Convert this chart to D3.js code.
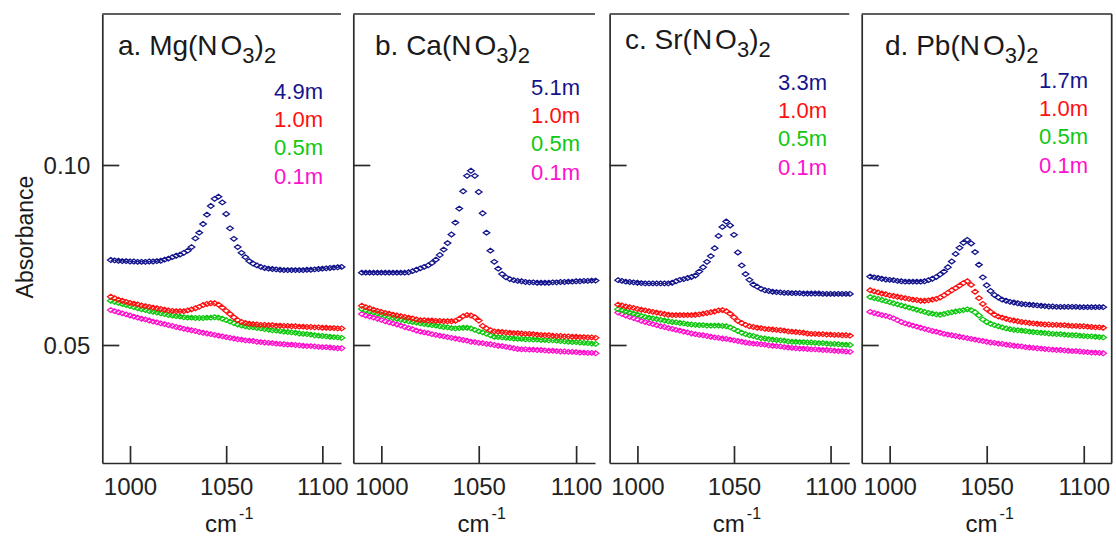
<!DOCTYPE html>
<html>
<head>
<meta charset="utf-8">
<script src="https://cdn.jsdelivr.net/npm/d3@7/dist/d3.min.js"></script>
<style>
  html, body { margin: 0; padding: 0; background: #fff; }
  svg { display: block; }
  text { font-family: "Liberation Sans", Arial, sans-serif; }
</style>
</head>
<body>
<svg id="chart" width="1116" height="537"></svg>
<script>
// ---------------- DATA ----------------
const wavenumbers = [990,992,994,996,998,1000,1002,1004,1006,1008,
  1010,1012,1014,1016,1018,1020,1022,1024,1026,1028,
  1030,1032,1034,1036,1038,1040,1042,1044,1046,1048,
  1050,1052,1054,1056,1058,1060,1062,1064,1066,1068,
  1070,1072,1074,1076,1078,1080,1082,1084,1086,1088,
  1090,1092,1094,1096,1098,1100,1102,1104,1106,1108,1110];

const salts = ["a. Mg", "b. Ca", "c. Sr", "d. Pb"];
const concentrations = [
  ["4.9m", "1.0m", "0.5m", "0.1m"],
  ["5.1m", "1.0m", "0.5m", "0.1m"],
  ["3.3m", "1.0m", "0.5m", "0.1m"],
  ["1.7m", "1.0m", "0.5m", "0.1m"]
];
const xTicks = [1000, 1050, 1100];
const yTicks = [0.05, 0.10];
const yTickLabels = ["0.05", "0.10"];
const xAxisTitle = "cm";
const xAxisTitleSup = "-1";
const yAxisTitle = "Absorbance";

// Mg(NO3)2
const mgHigh = [.0736,.0735,.0734,.0733,.0733,.0732,.0732,.0731,.0731,.0731,
  .0732,.0732,.0733,.0734,.0737,.0740,.0744,.0748,.0751,.0756,
  .0762,.0772,.0796,.0812,.0836,.0862,.0886,.0906,.0912,.0896,
  .0864,.0824,.0795,.0772,.0756,.0744,.0733,.0726,.0721,.0717,
  .0714,.0712,.0711,.0710,.0709,.0708,.0708,.0708,.0708,.0708,
  .0708,.0709,.0709,.0710,.0711,.0712,.0713,.0714,.0715,.0716,.0717];
const mg10 = [.0634,.0630,.0626,.0623,.0620,.0617,.0615,.0613,.0610,.0608,
  .0606,.0604,.0602,.0600,.0598,.0596,.0595,.0594,.0594,.0594,
  .0596,.0599,.0602,.0606,.0611,.0614,.0616,.0616,.0612,.0604,
  .0595,.0586,.0577,.0569,.0564,.0561,.0559,.0558,.0557,.0556,
  .0556,.0555,.0555,.0554,.0554,.0553,.0553,.0552,.0552,.0551,
  .0551,.0550,.0550,.0549,.0549,.0548,.0548,.0547,.0547,.0546,.0546];
const mg05 = [.0623,.0620,.0617,.0614,.0611,.0608,.0605,.0602,.0599,.0597,
  .0594,.0592,.0590,.0588,.0586,.0583,.0582,.0580,.0579,.0577,
  .0576,.0576,.0575,.0575,.0575,.0576,.0576,.0577,.0576,.0573,
  .0569,.0565,.0561,.0557,.0554,.0552,.0550,.0549,.0547,.0546,
  .0544,.0543,.0541,.0540,.0539,.0537,.0536,.0535,.0534,.0532,
  .0531,.0530,.0529,.0527,.0526,.0525,.0524,.0523,.0522,.0521,.0520];
const mg01 = [.0597,.0594,.0591,.0588,.0585,.0582,.0579,.0576,.0573,.0571,
  .0568,.0565,.0563,.0560,.0558,.0555,.0553,.0550,.0548,.0545,
  .0543,.0541,.0539,.0536,.0534,.0532,.0530,.0528,.0526,.0524,
  .0522,.0520,.0518,.0516,.0515,.0513,.0512,.0511,.0509,.0508,
  .0507,.0506,.0505,.0504,.0503,.0502,.0501,.0501,.0500,.0499,
  .0498,.0497,.0497,.0496,.0495,.0494,.0494,.0493,.0492,.0491,.0491];

// Ca(NO3)2
const caHigh = [.0701,.0701,.0701,.0701,.0701,.0701,.0701,.0701,.0701,.0701,
  .0701,.0701,.0702,.0705,.0709,.0713,.0717,.0721,.0728,.0737,
  .0750,.0765,.0783,.0807,.0840,.0879,.0927,.0970,.0984,.0970,
  .0925,.0866,.0812,.0762,.0731,.0712,.0697,.0688,.0683,.0680,
  .0678,.0677,.0675,.0674,.0674,.0673,.0673,.0673,.0673,.0674,
  .0674,.0675,.0675,.0676,.0676,.0677,.0677,.0678,.0678,.0679,.0679];
const ca10 = [.0609,.0605,.0602,.0598,.0595,.0592,.0589,.0587,.0584,.0582,
  .0580,.0578,.0576,.0574,.0571,.0569,.0569,.0568,.0568,.0567,
  .0567,.0566,.0566,.0566,.0567,.0573,.0580,.0583,.0582,.0577,
  .0568,.0553,.0546,.0541,.0538,.0537,.0536,.0535,.0534,.0533,
  .0533,.0532,.0531,.0531,.0530,.0529,.0528,.0527,.0527,.0526,
  .0525,.0525,.0524,.0524,.0523,.0523,.0522,.0522,.0521,.0521,.0520];
const ca05 = [.0600,.0596,.0593,.0590,.0587,.0584,.0581,.0578,.0575,.0573,
  .0570,.0568,.0566,.0564,.0562,.0560,.0558,.0557,.0555,.0554,
  .0552,.0550,.0549,.0547,.0546,.0547,.0548,.0548,.0546,.0542,
  .0538,.0535,.0531,.0527,.0523,.0522,.0521,.0520,.0519,.0518,
  .0517,.0517,.0516,.0516,.0515,.0515,.0514,.0514,.0513,.0513,
  .0512,.0511,.0510,.0509,.0508,.0508,.0507,.0506,.0505,.0504,.0503];
const ca01 = [.0586,.0582,.0579,.0576,.0573,.0570,.0566,.0563,.0560,.0557,
  .0554,.0550,.0547,.0544,.0540,.0537,.0535,.0533,.0530,.0528,
  .0526,.0524,.0522,.0520,.0518,.0516,.0514,.0512,.0509,.0508,
  .0506,.0505,.0503,.0502,.0500,.0498,.0497,.0495,.0493,.0491,
  .0489,.0488,.0488,.0487,.0487,.0486,.0486,.0485,.0484,.0484,
  .0483,.0482,.0482,.0481,.0481,.0480,.0479,.0479,.0478,.0478,.0477];

// Sr(NO3)2
const srHigh = [.0680,.0678,.0676,.0675,.0674,.0673,.0672,.0671,.0671,.0671,
  .0671,.0671,.0671,.0671,.0673,.0677,.0681,.0683,.0686,.0689,
  .0693,.0704,.0716,.0731,.0747,.0769,.0803,.0828,.0843,.0832,
  .0806,.0757,.0721,.0697,.0681,.0668,.0662,.0656,.0652,.0650,
  .0648,.0647,.0646,.0645,.0645,.0644,.0644,.0644,.0643,.0643,
  .0643,.0643,.0643,.0642,.0642,.0642,.0642,.0642,.0642,.0642,.0642];
const sr10 = [.0612,.0610,.0607,.0605,.0603,.0600,.0598,.0596,.0594,.0592,
  .0590,.0588,.0586,.0584,.0583,.0583,.0583,.0583,.0583,.0583,
  .0584,.0585,.0587,.0589,.0591,.0593,.0596,.0597,.0594,.0587,
  .0577,.0567,.0561,.0556,.0552,.0550,.0548,.0547,.0545,.0544,
  .0543,.0542,.0541,.0540,.0538,.0537,.0536,.0535,.0534,.0532,
  .0531,.0531,.0530,.0530,.0529,.0529,.0528,.0528,.0527,.0527,.0526];
const sr05 = [.0599,.0596,.0593,.0590,.0587,.0584,.0581,.0578,.0576,.0574,
  .0572,.0570,.0568,.0566,.0564,.0563,.0561,.0560,.0558,.0557,
  .0556,.0555,.0555,.0554,.0554,.0554,.0554,.0553,.0552,.0549,
  .0544,.0539,.0534,.0530,.0527,.0525,.0522,.0519,.0518,.0516,
  .0515,.0514,.0513,.0512,.0510,.0509,.0509,.0508,.0508,.0507,
  .0507,.0506,.0505,.0505,.0504,.0503,.0503,.0502,.0501,.0501,.0500];
const sr01 = [.0590,.0586,.0582,.0578,.0575,.0571,.0567,.0564,.0561,.0558,
  .0555,.0552,.0550,.0547,.0545,.0542,.0540,.0537,.0535,.0532,
  .0530,.0528,.0527,.0525,.0523,.0521,.0520,.0518,.0517,.0515,
  .0513,.0511,.0509,.0507,.0505,.0504,.0503,.0502,.0501,.0499,
  .0498,.0497,.0496,.0494,.0493,.0492,.0491,.0490,.0490,.0489,
  .0488,.0488,.0487,.0486,.0486,.0485,.0484,.0483,.0483,.0482,.0481];

// Pb(NO3)2
const pbHigh = [.0690,.0688,.0686,.0684,.0682,.0681,.0680,.0678,.0677,.0676,
  .0676,.0676,.0676,.0676,.0677,.0680,.0684,.0689,.0696,.0704,
  .0716,.0732,.0753,.0770,.0784,.0792,.0782,.0758,.0723,.0688,
  .0666,.0650,.0639,.0632,.0626,.0623,.0620,.0618,.0616,.0614,
  .0613,.0612,.0611,.0610,.0609,.0608,.0607,.0607,.0606,.0606,
  .0606,.0606,.0606,.0606,.0605,.0605,.0605,.0605,.0605,.0605,.0605];
const pb10 = [.0652,.0649,.0646,.0643,.0641,.0638,.0636,.0634,.0632,.0630,
  .0628,.0626,.0625,.0623,.0623,.0624,.0626,.0628,.0632,.0638,
  .0645,.0652,.0658,.0665,.0672,.0677,.0667,.0648,.0630,.0614,
  .0600,.0592,.0584,.0579,.0576,.0573,.0570,.0568,.0566,.0564,
  .0563,.0561,.0560,.0559,.0558,.0557,.0557,.0556,.0556,.0555,
  .0555,.0554,.0553,.0553,.0552,.0552,.0551,.0550,.0549,.0549,.0548];
const pb05 = [.0633,.0630,.0628,.0625,.0622,.0619,.0616,.0613,.0610,.0607,
  .0604,.0601,.0598,.0595,.0592,.0589,.0587,.0585,.0584,.0586,
  .0589,.0591,.0593,.0595,.0597,.0599,.0597,.0591,.0582,.0571,
  .0564,.0559,.0555,.0552,.0549,.0546,.0544,.0542,.0541,.0540,
  .0539,.0537,.0536,.0535,.0534,.0533,.0532,.0531,.0530,.0530,
  .0529,.0528,.0527,.0527,.0526,.0525,.0524,.0524,.0523,.0522,.0521];
const pb01 = [.0592,.0589,.0586,.0583,.0581,.0578,.0574,.0569,.0564,.0560,
  .0557,.0554,.0551,.0548,.0545,.0542,.0539,.0537,.0534,.0531,
  .0529,.0527,.0525,.0523,.0521,.0519,.0517,.0515,.0513,.0511,
  .0509,.0507,.0506,.0504,.0503,.0501,.0500,.0498,.0497,.0496,
  .0494,.0493,.0492,.0491,.0490,.0489,.0488,.0487,.0486,.0486,
  .0485,.0484,.0483,.0483,.0482,.0481,.0480,.0479,.0479,.0478,.0477];

const panelSeries = [
  [mgHigh, mg10, mg05, mg01],
  [caHigh, ca10, ca05, ca01],
  [srHigh, sr10, sr05, sr01],
  [pbHigh, pb10, pb05, pb01]
];

// ---------------- STYLE / LAYOUT ----------------
const seriesColors = ["#14148c", "#ff1010", "#10c810", "#ff10cc"];
const frameColor = "#2a2a2a";
const panels = [
  { left: 102.3, right: 341.0, xMax: 1109.7, titleX: 118, titleY: 55, legX: 323, legY: 99, rightFrame: false },
  { left: 353.3, right: 595.0, xMax: 1109.7, titleX: 375, titleY: 55, legX: 580, legY: 95, rightFrame: false },
  { left: 609.6, right: 849.3, xMax: 1109.7, titleX: 625, titleY: 49, legX: 827, legY: 90, rightFrame: false },
  { left: 861.7, right: 1111.7, xMax: 1114.4, titleX: 885, titleY: 55, legX: 1088, legY: 88, rightFrame: true }
];
const plotTop = 14, plotBottom = 463;
const xMin = 985.6;

const svg = d3.select("#chart");

const y = d3.scaleLinear()
  .domain([0.05 - (plotBottom - 345) / 3600, 0.10 + (165 - plotTop) / 3600])
  .range([plotBottom, plotTop]);

const diamond = "M-3.3,0L0,-2.4L3.3,0L0,2.4Z";

panels.forEach((p, pi) => {
  const x = d3.scaleLinear().domain([xMin, p.xMax]).range([p.left, p.right]);
  const g = svg.append("g");

  // series (draw low concentration first, highest on top)
  for (let si = 3; si >= 0; si--) {
    const vals = panelSeries[pi][si];
    g.append("g")
      .selectAll("path")
      .data(wavenumbers.map((w, i) => [w, vals[i]]))
      .join("path")
      .attr("d", diamond)
      .attr("transform", d => `translate(${x(d[0])},${y(d[1])})`)
      .attr("fill", "none")
      .attr("stroke", seriesColors[si])
      .attr("stroke-width", 1.25);
  }

  // y axis (left frame)
  const yAxis = d3.axisLeft(y)
    .tickValues(yTicks)
    .tickSizeInner(-17)
    .tickSizeOuter(0)
    .tickPadding(12)
    .tickFormat((d, i) => pi === 0 ? yTickLabels[i] : "");
  const ya = g.append("g").attr("transform", `translate(${p.left},0)`).call(yAxis);
  ya.select(".domain").attr("stroke", frameColor).attr("stroke-width", 1.7);
  ya.selectAll(".tick line").attr("stroke", frameColor).attr("stroke-width", 1.7);
  ya.selectAll(".tick text")
    .attr("font-size", 24).attr("fill", "#222")
    .attr("font-family", "Liberation Sans, Arial, sans-serif")
    .attr("dy", null).attr("y", 8.5);

  // x axis (bottom frame)
  const xAxis = d3.axisBottom(x)
    .tickValues(xTicks)
    .tickSizeInner(-17)
    .tickSizeOuter(0)
    .tickFormat(d3.format("d"));
  const xa = g.append("g").attr("transform", `translate(0,${plotBottom})`).call(xAxis);
  xa.select(".domain").attr("stroke", frameColor).attr("stroke-width", 1.7);
  xa.selectAll(".tick line").attr("stroke", frameColor).attr("stroke-width", 1.7);
  xa.selectAll(".tick text")
    .attr("font-size", 24).attr("fill", "#222")
    .attr("font-family", "Liberation Sans, Arial, sans-serif")
    .attr("dy", null).attr("y", 32);

  // top frame
  g.append("line")
    .attr("x1", p.left).attr("x2", p.right)
    .attr("y1", plotTop).attr("y2", plotTop)
    .attr("stroke", frameColor).attr("stroke-width", 1.7);
  if (p.rightFrame) {
    g.append("line")
      .attr("x1", p.right).attr("x2", p.right)
      .attr("y1", plotTop).attr("y2", plotBottom)
      .attr("stroke", frameColor).attr("stroke-width", 1.7);
  }

  // title
  const t = g.append("text")
    .attr("x", p.titleX).attr("y", p.titleY)
    .attr("font-size", 28).attr("fill", "#1a1a1a");
  t.append("tspan").text(salts[pi] + "(N");
  t.append("tspan").attr("dx", 3).text("O");
  t.append("tspan").attr("font-size", 22).attr("dy", 8).text("3");
  t.append("tspan").attr("dy", -8).text(")");
  t.append("tspan").attr("font-size", 22).attr("dy", 8).text("2");

  // legend
  g.append("g").selectAll("text")
    .data(concentrations[pi])
    .join("text")
    .attr("x", p.legX)
    .attr("y", (d, i) => p.legY + i * 28.2)
    .attr("text-anchor", "end")
    .attr("font-size", 22)
    .attr("fill", (d, i) => seriesColors[i])
    .text(d => d);

  // x axis title
  const xt = g.append("text")
    .attr("x", x(1050) + 3).attr("y", 531.5)
    .attr("text-anchor", "middle")
    .attr("font-size", 24).attr("fill", "#1a1a1a");
  xt.append("tspan").text(xAxisTitle);
  xt.append("tspan").attr("font-size", 16).attr("dy", -13).attr("dx", 2).text(xAxisTitleSup);
});

// y axis title
svg.append("text")
  .attr("transform", "translate(33,237) rotate(-90)")
  .attr("text-anchor", "middle")
  .attr("font-size", 23)
  .attr("fill", "#1a1a1a")
  .text(yAxisTitle);
</script>
</body>
</html>
